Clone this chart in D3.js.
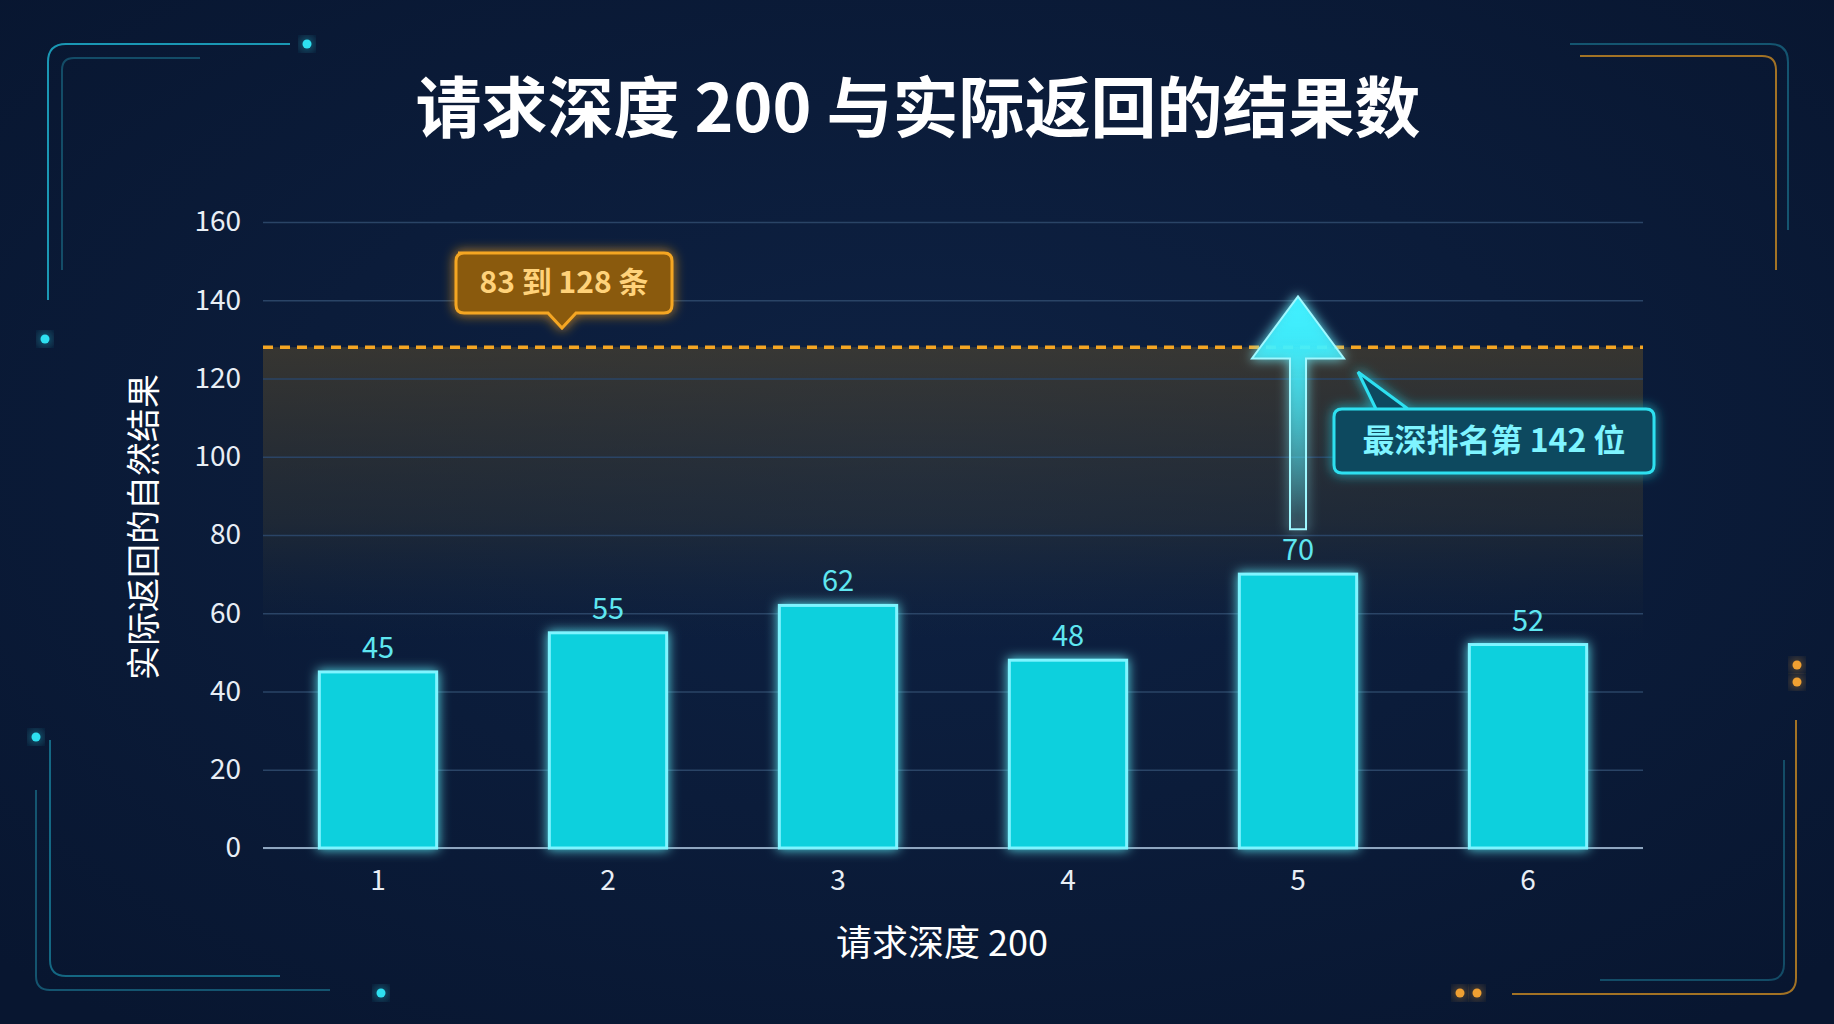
<!DOCTYPE html>
<html><head><meta charset="utf-8">
<script src="https://cdn.jsdelivr.net/npm/d3@7"></script>
<style>
body{margin:0;background:#0a1a33;overflow:hidden}
text{font-family:"Noto Sans CJK SC","Noto Sans",sans-serif}
</style></head><body>
<svg id="c" width="1834" height="1024"></svg>
<script>
"use strict";
// chart data
var categories = ["1","2","3","4","5","6"];
var values = [45,55,62,48,70,52];
var yTicks = [0,20,40,60,80,100,120,140,160];
var rangeLow = 83, rangeHigh = 128, deepest = 142;

(function(){
var svg = d3.select("#c");
var defs = svg.append("defs");

// background
var bg = defs.append("radialGradient").attr("id","bg").attr("cx","50%").attr("cy","45%").attr("r","70%");
bg.append("stop").attr("offset","0%").attr("stop-color","#0e2244");
bg.append("stop").attr("offset","100%").attr("stop-color","#081630");
svg.append("rect").attr("width",1834).attr("height",1024).attr("fill","url(#bg)");

var glow = defs.append("filter").attr("id","glow").attr("x","-50%").attr("y","-50%").attr("width","200%").attr("height","200%");
glow.append("feGaussianBlur").attr("stdDeviation",6).attr("result","b");
var fm = glow.append("feMerge");
fm.append("feMergeNode").attr("in","b");
fm.append("feMergeNode").attr("in","SourceGraphic");

// decorative frame
var deco = svg.append("g").attr("fill","none").attr("stroke-width",2);
deco.append("path").attr("d","M48,300 V62 Q48,44 66,44 H290").attr("stroke","#1fb8d4").attr("opacity",0.8);
deco.append("path").attr("d","M62,270 V70 Q62,58 74,58 H200").attr("stroke","#1a6f8a").attr("opacity",0.6);
deco.append("path").attr("d","M1570,44 H1770 Q1788,44 1788,62 V230").attr("stroke","#1a6f8a").attr("opacity",0.7);
deco.append("path").attr("d","M1580,56 H1762 Q1776,56 1776,70 V270").attr("stroke","#c98a22").attr("opacity",0.8);
deco.append("path").attr("d","M36,790 V976 Q36,990 50,990 H330").attr("stroke","#1a6f8a").attr("opacity",0.7);
deco.append("path").attr("d","M50,740 V960 Q50,976 66,976 H280").attr("stroke","#1fb8d4").attr("opacity",0.5);
deco.append("path").attr("d","M1512,994 H1780 Q1796,994 1796,978 V720").attr("stroke","#c98a22").attr("opacity",0.8);
deco.append("path").attr("d","M1600,980 H1768 Q1784,980 1784,964 V760").attr("stroke","#1a6f8a").attr("opacity",0.6);
[[307,44,"#2de0f0"],[45,339,"#2de0f0"],[36,737,"#2de0f0"],[381,993,"#2de0f0"],[1797,665,"#f0a030"],[1797,682,"#f0a030"],[1460,993,"#f0a030"],[1477,993,"#f0a030"]]
  .forEach(function(d){ svg.append("circle").attr("cx",d[0]).attr("cy",d[1]).attr("r",4.5).attr("fill",d[2]).attr("filter","url(#glow)"); });

// title
svg.append("text").attr("x",918).attr("y",132).attr("text-anchor","middle")
  .attr("fill","#fff").attr("font-size",66).attr("font-weight",700)
  .text("请求深度 200 与实际返回的结果数");

var pLeft = 263, pRight = 1643, pTop = 222, pBottom = 848;
var x = d3.scaleBand().domain(categories).range([pLeft,pRight]).paddingInner(0.49).paddingOuter(0.245);
var y = d3.scaleLinear().domain([0,160]).range([pBottom,pTop]);

// shaded range
var sh = defs.append("linearGradient").attr("id","sh").attr("x1",0).attr("x2",0).attr("y1",0).attr("y2",1);
sh.append("stop").attr("offset","0%").attr("stop-color","#5a4a2a").attr("stop-opacity",0.55);
sh.append("stop").attr("offset","60%").attr("stop-color","#3a3a30").attr("stop-opacity",0.4);
sh.append("stop").attr("offset","100%").attr("stop-color","#1a2a3a").attr("stop-opacity",0);
svg.append("rect").attr("x",pLeft).attr("width",pRight-pLeft)
  .attr("y",y(rangeHigh)).attr("height",y(rangeLow-30)-y(rangeHigh)).attr("fill","url(#sh)");

// grid + y axis
var yAxis = svg.append("g").attr("transform","translate("+pLeft+",0)")
  .call(d3.axisLeft(y).tickValues(yTicks).tickSize(-(pRight-pLeft)).tickPadding(22));
yAxis.select(".domain").remove();
yAxis.selectAll(".tick line").attr("stroke","#2a4466").attr("stroke-width",1.3);
yAxis.selectAll(".tick text").attr("fill","#e8eef5").attr("font-size",28);
svg.append("line").attr("x1",pLeft).attr("x2",pRight).attr("y1",pBottom).attr("y2",pBottom).attr("stroke","#8fa6c0").attr("stroke-width",2);

// x axis
var xAxis = svg.append("g").attr("transform","translate(0,"+pBottom+")")
  .call(d3.axisBottom(x).tickSize(0).tickPadding(22));
xAxis.select(".domain").remove();
xAxis.selectAll(".tick text").attr("fill","#e8eef5").attr("font-size",28);

svg.append("text").attr("x",942).attr("y",956).attr("text-anchor","middle").attr("fill","#fff").attr("font-size",36).text("请求深度 200");
svg.append("text").attr("transform","translate(156,527) rotate(-90)").attr("text-anchor","middle").attr("fill","#fff").attr("font-size",34).text("实际返回的自然结果");

// bars
var bars = svg.append("g");
bars.selectAll("rect").data(values).enter().append("rect")
  .attr("x",function(d,i){return x(categories[i]);})
  .attr("width",x.bandwidth())
  .attr("y",function(d){return y(d);})
  .attr("height",function(d){return pBottom-y(d);})
  .attr("fill","#08d0dd").attr("stroke","#7ff4ff").attr("stroke-width",3)
  .attr("filter","url(#glow)");
bars.selectAll("text").data(values).enter().append("text")
  .attr("x",function(d,i){return x(categories[i])+x.bandwidth()/2;})
  .attr("y",function(d){return y(d)-14;})
  .attr("text-anchor","middle").attr("fill","#5fe6f0").attr("font-size",29)
  .text(function(d){return d;});

// dashed range top
svg.append("line").attr("x1",pLeft).attr("x2",pRight).attr("y1",y(rangeHigh)).attr("y2",y(rangeHigh))
  .attr("stroke","#f5a623").attr("stroke-width",3.5).attr("stroke-dasharray","10,7");

// orange callout
svg.append("path").attr("d","M458,253 H664 Q672,253 672,261 V305 Q672,313 664,313 H576 L562,328 L548,313 H464 Q456,313 456,305 V261 Q456,253 464,253 Z")
  .attr("fill","#8a5a10").attr("stroke","#f5a623").attr("stroke-width",3).attr("filter","url(#glow)");
svg.append("text").attr("x",564).attr("y",293).attr("text-anchor","middle").attr("fill","#ffd27a").attr("font-size",30).attr("font-weight",700).text("83 到 "+rangeHigh+" 条");

// arrow at bar 5
var ax = x(categories[4]) + x.bandwidth()/2;
var ag = defs.append("linearGradient").attr("id","ag").attr("x1",0).attr("x2",0).attr("y1",0).attr("y2",1);
ag.append("stop").attr("offset","0%").attr("stop-color","#40f0ff");
ag.append("stop").attr("offset","100%").attr("stop-color","#40f0ff").attr("stop-opacity",0);
var ay0 = y(70)-45, ay1 = y(deepest)+4;
svg.append("path").attr("d","M"+(ax-8)+","+ay0+" V"+(ay1+62)+" H"+(ax-46)+" L"+ax+","+ay1+" L"+(ax+46)+","+(ay1+62)+" H"+(ax+8)+" V"+ay0+" Z")
  .attr("fill","url(#ag)").attr("stroke","#9ff8ff").attr("stroke-width",2).attr("filter","url(#glow)");

// cyan callout
svg.append("path").attr("d","M1342,409 H1646 Q1654,409 1654,417 V465 Q1654,473 1646,473 H1342 Q1334,473 1334,465 V417 Q1334,409 1342,409 Z M1376,409 L1358,372 L1408,409")
  .attr("fill","#0b4a5e").attr("stroke","#2de0f0").attr("stroke-width",3).attr("filter","url(#glow)");
svg.append("text").attr("x",1494).attr("y",452).attr("text-anchor","middle").attr("fill","#7ff4ff").attr("font-size",32).attr("font-weight",700).text("最深排名第 "+deepest+" 位");
})();
</script></body></html>
